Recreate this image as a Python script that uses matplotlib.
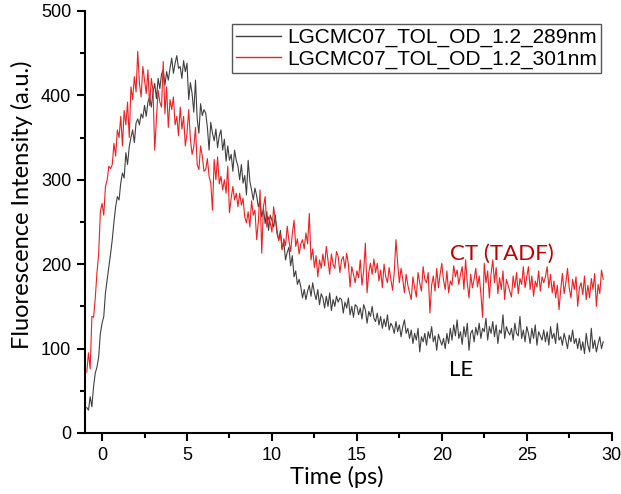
import numpy as np
import matplotlib
matplotlib.use("Agg")
import matplotlib.pyplot as plt
from matplotlib.ticker import MultipleLocator

# time grid (ps)
t_start, t_step, n_pts = -0.9, 0.1, 305
time_ps = np.round(t_start + t_step * np.arange(n_pts), 2)

# 289 nm excitation (LE)
lgcmc07_289nm = [
    30, 27, 43, 31, 55, 71, 78, 90, 118, 130,
    138, 166, 182, 197, 212, 229, 250, 268, 280, 276,
    296, 308, 302, 332, 318, 339, 350, 359, 344, 367,
    372, 365, 378, 373, 388, 375, 392, 398, 386, 404,
    414, 396, 420, 408, 425, 430, 412, 428, 418, 432,
    444, 426, 438, 447, 432, 434, 420, 441, 428, 438,
    395, 415, 402, 380, 418, 372, 355, 390, 376, 383,
    379, 362, 335, 368, 355, 346, 360, 338, 352, 359,
    335, 348, 322, 340, 323, 330, 310, 335, 323, 316,
    300, 318, 296, 305, 282, 323, 298, 288, 276, 290,
    281, 268, 274, 256, 266, 248, 262, 240, 258, 252,
    244, 258, 236, 229, 240, 218, 226, 205, 214, 220,
    198, 210, 185, 192, 176, 182, 173, 160, 170, 158,
    168, 175, 162, 178, 166, 158, 170, 152, 165, 160,
    148, 162, 150, 166, 145, 158, 150, 162, 155, 160,
    158, 142, 155, 148, 160, 140, 150, 137, 152, 150,
    140, 148, 135, 152, 146, 130, 144, 138, 150, 136,
    132, 142, 128, 138, 124, 135, 126, 140, 122, 130,
    126, 118, 132, 120, 128, 114, 126, 134, 118, 124,
    112, 122, 106, 118, 110, 124, 96, 114, 108, 118,
    104, 120, 112, 126, 108, 115, 98, 117, 110, 104,
    112, 100, 118, 106, 124, 110, 128, 115, 134, 112,
    120, 105, 126, 114, 130, 98, 118, 122, 108, 125,
    116, 130, 112, 124, 120, 136, 110, 126, 118, 132,
    114, 128, 106, 122, 118, 140, 112, 126, 120, 116,
    124, 110, 130, 118, 115, 138, 112, 122, 108, 126,
    118, 106, 124, 112, 128, 104, 120, 115, 110, 122,
    108, 120, 104, 126, 112, 118, 106, 130, 110, 114,
    104, 118, 110, 100, 116, 108, 122, 106, 112, 100,
    112, 98, 108, 94, 118, 104, 96, 124, 100, 110,
    96, 106, 114, 100, 108,
]

# 301 nm excitation (CT / TADF)
lgcmc07_301nm = [
    72, 95, 76, 138, 137, 160, 190, 212, 262, 272,
    258, 292, 300, 316, 313, 318, 343, 328, 359, 350,
    375, 340, 382, 365, 392, 350, 410, 395, 422, 404,
    452, 414, 398, 434, 418, 402, 430, 388, 420, 405,
    335, 372, 406, 392, 386, 440, 378, 410, 362, 395,
    383, 398, 365, 375, 352, 386, 360, 375, 340, 355,
    383, 348, 330, 339, 362, 318, 312, 340, 328, 310,
    312, 325, 304, 296, 264, 324, 300, 327, 295, 304,
    288, 300, 284, 316, 261, 278, 292, 276, 284, 268,
    284, 270, 278, 256, 249, 262, 244, 275, 258, 264,
    229, 250, 288, 213, 268, 280, 244, 256, 249, 238,
    268, 252, 240, 228, 236, 217, 230, 222, 245, 228,
    215, 236, 252, 221, 230, 212, 224, 229, 218, 237,
    224, 260, 205, 218, 196, 210, 185, 205, 195, 212,
    198, 221, 205, 188, 212, 200, 195, 215, 209, 190,
    205, 209, 195, 213, 200, 173, 197, 188, 178, 192,
    184, 205, 175, 192, 225, 166, 190, 201, 188, 206,
    190, 201, 180, 193, 172, 200, 185, 178, 196, 182,
    169, 190, 229, 201, 178, 195, 182, 166, 188, 175,
    166, 158, 185, 172, 161, 190, 178, 168, 197, 182,
    178, 190, 142, 175, 186, 168, 195, 172, 188, 201,
    181, 170, 192, 166, 180, 175, 198, 185, 193, 176,
    188, 197, 170, 205, 178, 160, 188, 172, 182, 195,
    173, 186, 165, 137, 201, 178, 192, 160, 189, 205,
    178, 196, 165, 184, 170, 192, 158, 182, 175, 168,
    161, 186, 172, 190, 165, 183, 176, 197, 172, 185,
    197, 170, 186, 162, 180, 173, 192, 168, 185, 178,
    185, 197, 172, 188, 166, 180, 160, 175, 146, 170,
    189, 165, 178, 195, 172, 160, 182, 170, 185, 150,
    172, 178, 164, 186, 158, 175, 160, 183, 170, 189,
    150, 176, 165, 193, 182,
]

series_labels = ["LGCMC07_TOL_OD_1.2_289nm", "LGCMC07_TOL_OD_1.2_301nm"]
x_ticks = [0, 5, 10, 15, 20, 25, 30]
y_ticks = [0, 100, 200, 300, 400, 500]

fig = plt.figure(figsize=(6.21, 4.94), dpi=100)
ax = fig.add_axes([0.137, 0.1235, 0.848, 0.8545])

ax.plot(time_ps, lgcmc07_289nm, color="#404040", lw=0.8, label=series_labels[0])
ax.plot(time_ps, lgcmc07_301nm, color="#f02020", lw=0.8, label=series_labels[1])

ax.set_xlim(-1, 30)
ax.set_ylim(0, 500)
ax.set_xticks(x_ticks)
ax.set_yticks(y_ticks)
ax.xaxis.set_minor_locator(MultipleLocator(2.5))
ax.yaxis.set_minor_locator(MultipleLocator(50))

for side in ("top", "right"):
    ax.spines[side].set_visible(False)
for side in ("left", "bottom"):
    ax.spines[side].set_linewidth(1.5)

ax.tick_params(which="major", direction="out", length=6, width=1.5,
               labelsize=13, labelfontfamily="Liberation Sans", pad=4)
ax.tick_params(which="minor", direction="out", length=3.5, width=1.5)

ax.set_xlabel("Time (ps)", fontsize=17, family="Lato", va="center")
ax.set_ylabel("Fluorescence Intensity (a.u.)", fontsize=17, family="Lato", va="center")
ax.xaxis.set_label_coords(0.478, -0.104)
ax.yaxis.set_label_coords(-0.12, 0.54)

leg = ax.legend(loc="upper right", bbox_to_anchor=(0.98, 0.969), borderaxespad=0,
                prop={"family": "Liberation Sans", "size": 15}, fancybox=False,
                edgecolor="#555555", framealpha=1, handlelength=2.15,
                handletextpad=0.3, borderpad=0.2, labelspacing=0.1)
leg.get_frame().set_linewidth(1.0)
for handle in leg.legend_handles:
    handle.set_linewidth(1.0)

ax.text(20.5, 205, "CT (TADF)", color="#c00000", fontsize=16, family="Lato")
ax.text(20.4, 68, "LE", color="black", fontsize=16, family="Lato")

fig.savefig("out.png", dpi=100)
